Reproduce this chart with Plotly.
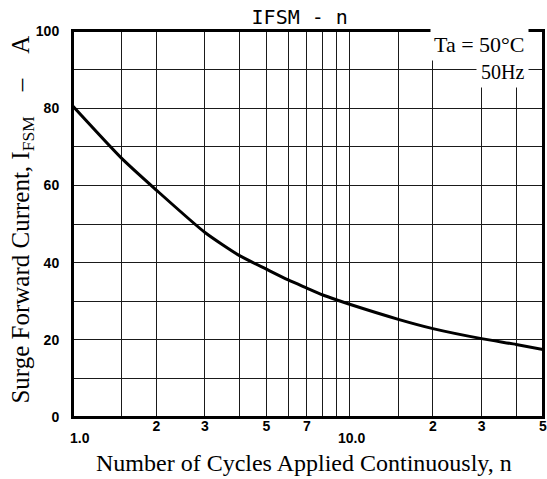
import math
import plotly.graph_objects as go

# Data
cycles = [1, 1.5, 2, 3, 4, 5, 6, 7, 8, 9, 10, 15, 20, 30, 40, 50]
ifsm = [80.5, 67.0, 58.8, 47.8, 41.8, 38.3, 35.5, 33.4, 31.6, 30.3, 29.2, 25.3, 22.9, 20.3, 18.8, 17.5]

x_grid = [1, 1.5, 2, 3, 4, 5, 6, 7, 8, 9, 10, 15, 20, 30, 40, 50]
x_ticktext = ["", "", "2", "3", "", "5", "", "7", "", "", "", "", "2", "3", "", "5"]
x_low_vals = [1, 10]
x_low_text = ["1.0", "10.0"]
y_grid = [0, 10, 20, 30, 40, 50, 60, 70, 80, 90, 100]
y_ticktext = ["0", "", "20", "", "40", "", "60", "", "80", "", "100"]

tick_font = dict(family="Liberation Sans", size=14, color="black", weight="bold")

fig = go.Figure()
fig.add_trace(go.Scatter(
    x=cycles, y=ifsm, mode="lines",
    line=dict(color="black", width=3, shape="spline", smoothing=0.6),
    showlegend=False, hoverinfo="skip"))

fig.update_layout(
    width=547, height=479,
    margin=dict(l=73, r=4, t=31, b=62, autoexpand=False),
    paper_bgcolor="white", plot_bgcolor="white",
    title=dict(text="IFSM - n", x=0.548, xanchor="center", y=0.9645, yanchor="middle",
               automargin=False,
               font=dict(family="DejaVu Sans Mono", size=20, color="black")),
    xaxis=dict(type="log", range=[0, math.log10(50)], automargin=False,
               tickmode="array", tickvals=x_grid, ticktext=x_ticktext,
               showgrid=True, gridcolor="#1a1a1a", gridwidth=1,
               showline=True, linecolor="black", linewidth=2, mirror=True,
               ticks="", ticklabelstandoff=-5, ticklabeloverflow="allow",
               tickfont=tick_font, zeroline=False),
    yaxis=dict(range=[0, 100], tickmode="array", tickvals=y_grid, ticktext=y_ticktext,
               automargin=False,
               showgrid=True, gridcolor="#1a1a1a", gridwidth=1,
               showline=True, linecolor="black", linewidth=2, mirror=True,
               ticks="", ticklabelstandoff=9, ticklabeloverflow="allow",
               tickfont=tick_font, zeroline=False),
    font=dict(color="black"),
)

fig.add_shape(type="rect", xref="paper", yref="paper", x0=0, x1=1, y0=0, y1=1,
              line=dict(color="black", width=2), layer="above")

for v, t in zip(x_low_vals, x_low_text):
    fig.add_annotation(x=math.log10(v), y=0, xref="x", yref="y",
                       text=t, showarrow=False, xanchor="left" if v == 1 else "center",
                       yanchor="top", yshift=-11, xshift=-5 if v == 1 else 2,
                       font=tick_font)

fig.add_annotation(x=0.491, xref="paper", y=-0.119, yref="paper",
                   text="Number of Cycles Applied Continuously, n", showarrow=False,
                   xanchor="center", yanchor="middle",
                   font=dict(family="Liberation Serif", size=24, color="black"))

fig.add_annotation(x=-0.108, xref="paper", y=0.512, yref="paper", textangle=-90,
                   text="Surge Forward Current, I<sub>FSM</sub>\u00a0\u00a0\u00a0\u00a0–\u00a0\u00a0\u00a0\u00a0A",
                   showarrow=False, xanchor="center", yanchor="middle",
                   font=dict(family="Liberation Serif", size=25, color="black"))

fig.add_annotation(x=1.0, xref="paper", y=96.4, yref="y",
                   text="Ta = 50°C", showarrow=False, xanchor="right", yanchor="middle",
                   xshift=-14, bgcolor="white", borderpad=3,
                   font=dict(family="Liberation Serif", size=22, color="black"))
fig.add_annotation(x=1.0, xref="paper", y=89.5, yref="y",
                   text="50Hz", showarrow=False, xanchor="right", yanchor="middle",
                   xshift=-14, bgcolor="white", borderpad=4,
                   font=dict(family="Liberation Serif", size=20, color="black"))

fig.write_html("out.html", config={"displayModeBar": False},
               post_script="document.body.style.margin='0';document.body.style.overflow='hidden';")
